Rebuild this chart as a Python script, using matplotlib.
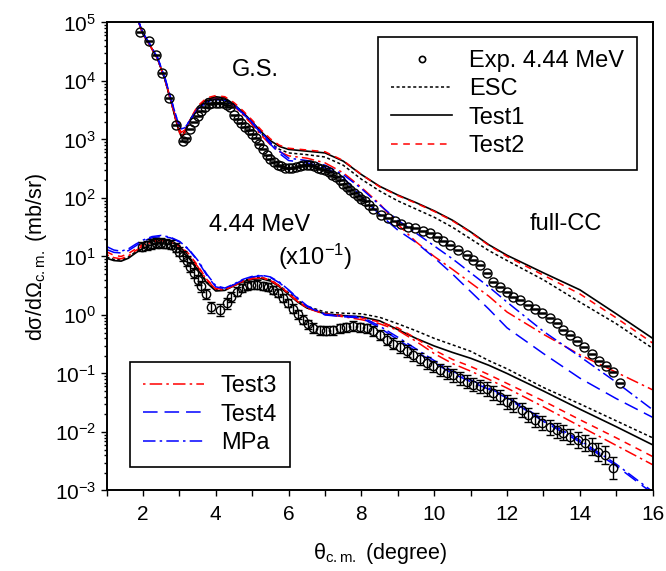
import numpy as np
import matplotlib
import matplotlib.pyplot as plt
from matplotlib.lines import Line2D

matplotlib.use('Agg')

plt.rcParams['font.family'] = ['Liberation Sans', 'DejaVu Sans']
plt.rcParams['mathtext.fontset'] = 'custom'
plt.rcParams['mathtext.rm'] = 'Liberation Sans'
plt.rcParams['mathtext.it'] = 'Liberation Sans:italic'
plt.rcParams['lines.scale_dashes'] = False

# ---- G.S. (values are log10 of dsigma/dOmega in mb/sr) ----
gs_x = [1.8, 2.0, 2.2, 2.4, 2.6, 2.8, 2.95, 3.05, 3.15, 3.3, 3.5, 3.75, 4.0, 4.25,
        4.5, 4.75, 5.0, 5.25, 5.5, 5.75, 6.0, 6.5, 7.0, 7.5, 8.0, 8.5, 9.0, 9.5,
        10.0, 10.5, 11.0, 11.5, 12.0, 13.0, 14.0, 15.0, 16.0]
gs_esc = [5.15, 4.80, 4.60, 4.38, 4.03, 3.58, 3.23, 3.07, 3.13, 3.34, 3.54, 3.67, 3.71, 3.69,
          3.58, 3.44, 3.27, 3.10, 2.94, 2.83, 2.77, 2.74, 2.70, 2.56, 2.32, 2.12, 1.95, 1.81,
          1.67, 1.50, 1.30, 1.10, 0.93, 0.60, 0.22, -0.15, -0.57]
gs_test1 = [5.15, 4.80, 4.60, 4.38, 4.03, 3.58, 3.22, 3.05, 3.12, 3.34, 3.55, 3.69, 3.73, 3.71,
            3.60, 3.46, 3.30, 3.13, 2.98, 2.88, 2.83, 2.80, 2.77, 2.63, 2.40, 2.20, 2.05, 1.92,
            1.78, 1.62, 1.42, 1.20, 1.02, 0.72, 0.43, 0.02, -0.40]
gs_test2 = [5.15, 4.80, 4.60, 4.38, 4.03, 3.58, 3.22, 3.03, 3.12, 3.35, 3.57, 3.71, 3.75, 3.73,
            3.63, 3.49, 3.33, 3.16, 3.01, 2.90, 2.85, 2.82, 2.79, 2.64, 2.40, 2.19, 2.04, 1.91,
            1.77, 1.61, 1.41, 1.19, 1.00, 0.68, 0.36, -0.05, -0.48]
gs_test3 = [5.15, 4.80, 4.60, 4.38, 4.03, 3.60, 3.26, 3.12, 3.16, 3.33, 3.52, 3.66, 3.70, 3.68,
            3.57, 3.42, 3.25, 3.07, 2.91, 2.79, 2.72, 2.68, 2.60, 2.43, 2.18, 1.90, 1.55, 1.25,
            1.00, 0.78, 0.55, 0.32, 0.05, -0.33, -0.68, -0.98, -1.28]
gs_test4 = [5.15, 4.82, 4.62, 4.40, 4.06, 3.63, 3.32, 3.19, 3.20, 3.33, 3.51, 3.64, 3.68, 3.67,
            3.58, 3.44, 3.28, 3.10, 2.92, 2.76, 2.64, 2.60, 2.52, 2.35, 2.02, 1.72, 1.45, 1.24,
            0.98, 0.70, 0.40, 0.10, -0.22, -0.66, -1.08, -1.43, -1.75]
gs_mpa = [5.15, 4.82, 4.62, 4.40, 4.06, 3.63, 3.31, 3.18, 3.20, 3.34, 3.52, 3.65, 3.69, 3.68,
          3.59, 3.45, 3.29, 3.12, 2.95, 2.80, 2.68, 2.64, 2.56, 2.40, 2.16, 1.88, 1.62, 1.40,
          1.18, 0.96, 0.72, 0.48, 0.22, -0.28, -0.71, -1.15, -1.62]

gs_exp_x = [1.93, 2.16, 2.37, 2.53, 2.72, 2.91, 3.11, 3.17, 3.30, 3.40, 3.50, 3.60, 3.70,
            3.80, 3.90, 4.00, 4.10, 4.20, 4.30, 4.40, 4.50, 4.60, 4.70, 4.80, 4.90, 5.00,
            5.10, 5.20, 5.30, 5.40, 5.50, 5.60, 5.70, 5.80, 5.90, 6.00, 6.10, 6.20, 6.30,
            6.40, 6.50, 6.60, 6.70, 6.80, 6.90, 7.00, 7.10, 7.20, 7.30, 7.40, 7.50, 7.60,
            7.70, 7.80, 7.90, 8.00, 8.10, 8.20, 8.32, 8.55, 8.74, 8.92, 9.10, 9.29, 9.47,
            9.70, 9.88, 10.07, 10.25, 10.43, 10.66, 10.89, 11.07, 11.26, 11.44, 11.62, 11.80,
            11.99, 12.17, 12.35, 12.58, 12.77, 12.95, 13.18, 13.36, 13.54, 13.73, 13.91,
            14.12, 14.32, 14.53, 14.73, 14.91, 15.10]
gs_exp_y = [4.83, 4.68, 4.44, 4.13, 3.71, 3.25, 2.98, 3.03, 3.18, 3.30, 3.40, 3.49, 3.55,
            3.60, 3.62, 3.63, 3.63, 3.62, 3.59, 3.55, 3.42, 3.35, 3.28, 3.22, 3.16, 3.10,
            3.02, 2.92, 2.83, 2.74, 2.67, 2.61, 2.57, 2.54, 2.52, 2.51, 2.52, 2.53, 2.55,
            2.56, 2.56, 2.56, 2.54, 2.52, 2.50, 2.47, 2.44, 2.40, 2.36, 2.30, 2.24, 2.19,
            2.14, 2.09, 2.04, 1.99, 1.94, 1.88, 1.81, 1.71, 1.65, 1.60, 1.56, 1.51, 1.48,
            1.44, 1.40, 1.33, 1.27, 1.20, 1.11, 1.03, 0.94, 0.85, 0.71, 0.57, 0.48,
            0.40, 0.31, 0.26, 0.17, 0.11, 0.03, -0.06, -0.14, -0.26, -0.34, -0.45,
            -0.55, -0.66, -0.79, -0.87, -0.98, -1.16]

# ---- 4.44 MeV (x10^-1), log10 values ----
ex_x = [1.0, 1.2, 1.4, 1.6, 1.8, 2.0, 2.25, 2.5, 2.75, 3.0, 3.25, 3.5, 3.75, 4.0, 4.25,
        4.5, 4.75, 5.0, 5.25, 5.5, 5.75, 6.0, 6.25, 6.5, 7.0, 7.5, 8.0, 8.5, 9.0, 9.5,
        10.0, 10.5, 11.0, 11.5, 12.0, 13.0, 14.0, 15.0, 16.0]
ex_esc = [0.99, 0.95, 0.94, 0.99, 1.08, 1.16, 1.22, 1.24, 1.22, 1.14, 1.00, 0.80, 0.57, 0.43,
          0.44, 0.52, 0.59, 0.63, 0.64, 0.60, 0.50, 0.38, 0.25, 0.15, 0.05, 0.03, 0.02, -0.04,
          -0.15, -0.27, -0.40, -0.51, -0.62, -0.78, -0.92, -1.24, -1.52, -1.81, -2.10]
ex_test1 = [0.97, 0.93, 0.92, 0.97, 1.06, 1.14, 1.20, 1.22, 1.20, 1.12, 0.98, 0.78, 0.55, 0.41,
            0.42, 0.50, 0.57, 0.61, 0.62, 0.58, 0.48, 0.35, 0.22, 0.12, 0.02, -0.01, -0.03, -0.10,
            -0.25, -0.40, -0.53, -0.64, -0.74, -0.86, -1.00, -1.30, -1.61, -1.91, -2.22]
ex_test2 = [1.08, 1.02, 1.00, 1.05, 1.13, 1.21, 1.27, 1.29, 1.27, 1.19, 1.05, 0.85, 0.61, 0.45,
            0.44, 0.51, 0.58, 0.63, 0.64, 0.60, 0.50, 0.37, 0.24, 0.13, 0.02, -0.01, -0.05, -0.12,
            -0.22, -0.40, -0.60, -0.76, -0.88, -1.02, -1.17, -1.47, -1.79, -2.10, -2.42]
ex_test3 = [1.03, 0.98, 0.96, 1.01, 1.10, 1.18, 1.25, 1.27, 1.25, 1.17, 1.03, 0.83, 0.60, 0.44,
            0.43, 0.50, 0.57, 0.62, 0.63, 0.59, 0.49, 0.36, 0.23, 0.12, 0.01, -0.03, -0.08, -0.15,
            -0.26, -0.45, -0.66, -0.83, -0.96, -1.10, -1.25, -1.57, -1.90, -2.23, -2.56]
ex_test4 = [1.12, 1.07, 1.06, 1.10, 1.18, 1.26, 1.32, 1.34, 1.32, 1.25, 1.12, 0.93, 0.68, 0.48,
            0.45, 0.52, 0.60, 0.65, 0.67, 0.64, 0.55, 0.42, 0.28, 0.15, 0.00, -0.03, -0.05, -0.22,
            -0.42, -0.62, -0.82, -1.00, -1.14, -1.27, -1.42, -1.82, -2.17, -2.58, -3.05]
ex_mpa = [1.17, 1.11, 1.09, 1.13, 1.21, 1.28, 1.34, 1.36, 1.33, 1.26, 1.13, 0.94, 0.70, 0.50,
          0.46, 0.53, 0.61, 0.66, 0.68, 0.65, 0.56, 0.43, 0.29, 0.16, 0.01, -0.02, -0.03, -0.19,
          -0.38, -0.58, -0.78, -0.96, -1.11, -1.25, -1.40, -1.79, -2.14, -2.55, -3.02]

ex_exp_x = [1.96, 2.10, 2.23, 2.37, 2.50, 2.64, 2.77, 2.90, 3.00, 3.10, 3.20, 3.30, 3.40,
            3.50, 3.60, 3.72, 3.88, 4.11, 4.30, 4.43, 4.57, 4.71, 4.85, 4.98, 5.12, 5.30,
            5.44, 5.58, 5.71, 5.85, 5.99, 6.13, 6.26, 6.40, 6.54, 6.68, 6.86, 7.04, 7.23,
            7.41, 7.59, 7.78, 7.96, 8.14, 8.33, 8.51, 8.69, 8.87, 9.05, 9.24, 9.42, 9.61,
            9.79, 9.97, 10.15, 10.34, 10.52, 10.70, 10.89, 11.07, 11.26, 11.44, 11.62, 11.81,
            11.99, 12.17, 12.40, 12.58, 12.77, 12.95, 13.18, 13.36, 13.55, 13.73, 13.96,
            14.14, 14.32, 14.51, 14.69, 14.92]
ex_exp_y = [1.17, 1.19, 1.21, 1.23, 1.23, 1.22, 1.20, 1.15, 1.08, 1.01, 0.92, 0.82, 0.72,
            0.60, 0.49, 0.36, 0.13, 0.09, 0.20, 0.31, 0.40, 0.46, 0.49, 0.51, 0.52, 0.50,
            0.48, 0.43, 0.37, 0.29, 0.20, 0.11, 0.01, -0.08, -0.16, -0.22, -0.26, -0.27, -0.26,
            -0.23, -0.21, -0.19, -0.21, -0.23, -0.27, -0.34, -0.42, -0.49, -0.55, -0.61, -0.68, -0.75,
            -0.82, -0.88, -0.94, -0.99, -1.03, -1.08, -1.14, -1.19, -1.22, -1.26, -1.33, -1.40,
            -1.48, -1.54, -1.62, -1.71, -1.80, -1.85, -1.92, -1.97, -2.01, -2.08, -2.14,
            -2.19, -2.25, -2.34, -2.39, -2.62]
ex_exp_err = [0.08, 0.08, 0.08, 0.08, 0.08, 0.08, 0.08, 0.08, 0.08, 0.08, 0.08, 0.08, 0.08,
              0.08, 0.09, 0.09, 0.10, 0.10, 0.09, 0.08, 0.08, 0.07, 0.07, 0.07, 0.07, 0.07,
              0.07, 0.07, 0.07, 0.07, 0.07, 0.08, 0.08, 0.08, 0.08, 0.08, 0.08, 0.08, 0.08,
              0.08, 0.08, 0.08, 0.08, 0.08, 0.09, 0.09, 0.09, 0.10, 0.10, 0.10, 0.10, 0.10,
              0.10, 0.10, 0.10, 0.11, 0.11, 0.11, 0.11, 0.11, 0.11, 0.12, 0.12, 0.12,
              0.12, 0.12, 0.12, 0.12, 0.12, 0.12, 0.13, 0.13, 0.13, 0.13, 0.14,
              0.14, 0.14, 0.15, 0.15, 0.19]

labels = ['ESC', 'Test1', 'Test2', 'Test3', 'Test4', 'MPa']
styles = {
    'ESC': dict(color='black', ls=(0, (2.2, 1.8)), lw=1.1),
    'Test1': dict(color='black', ls='-', lw=1.2),
    'Test2': dict(color='red', ls=(0, (4.8, 4.0)), lw=1.1),
    'Test3': dict(color='red', ls=(0, (1.8, 3.0, 9.0, 3.0)), lw=1.1),
    'Test4': dict(color='blue', ls=(0, (10.5, 5.0)), lw=1.1),
    'MPa': dict(color='blue', ls=(0, (9.0, 3.0, 1.8, 3.0)), lw=1.1),
}
gs_curves = dict(zip(labels, [gs_esc, gs_test1, gs_test2, gs_test3, gs_test4, gs_mpa]))
ex_curves = dict(zip(labels, [ex_esc, ex_test1, ex_test2, ex_test3, ex_test4, ex_mpa]))

fig = plt.figure(figsize=(6.66, 5.71), dpi=100)
ax = fig.add_axes([0.160, 0.141, 0.820, 0.8197])

handles = {}
for name in labels:
    ax.plot(ex_x, 10.0 ** np.array(ex_curves[name]), **styles[name])
    handles[name], = ax.plot(gs_x, 10.0 ** np.array(gs_curves[name]), **styles[name])

# 4.44 MeV data with error bars
ey = np.array(ex_exp_y)
ee = np.array(ex_exp_err)
yv = 10.0 ** ey
yerr = [yv - 10.0 ** (ey - ee), 10.0 ** (ey + ee) - yv]
ax.errorbar(ex_exp_x, yv, yerr=yerr, fmt='o', ms=6, mfc='none', mec='black', mew=1.0,
            ecolor='black', elinewidth=1.0, capsize=3, capthick=1.0, zorder=5)

# G.S. data
gy = 10.0 ** np.array(gs_exp_y)
ax.plot(gs_exp_x, gy, ls='none', marker='o', ms=6.5, mfc='none', mec='black', mew=1.0, zorder=6)
ax.plot(gs_exp_x, gy, ls='none', marker='_', ms=6, mew=1.8, color='black', zorder=6)

ax.set_yscale('log')
ax.set_xlim(1, 16)
ax.set_ylim(1e-3, 1e5)
ax.set_xticks(np.arange(2, 17, 2))
ax.set_xticks(np.arange(1, 17, 1), minor=True)
ax.tick_params(axis='both', which='both', direction='out', top=False, right=False,
               labelsize=15, width=1.0)
ax.tick_params(axis='x', which='both', length=4.5, pad=6)
ax.tick_params(axis='y', which='major', length=4.5, pad=3)
ax.tick_params(axis='y', which='minor', length=2.5)
for s in ax.spines.values():
    s.set_linewidth(1.4)

ax.set_xlabel(r'θ$_{\mathrm{c.m.}}$ (degree)', fontsize=15.5, labelpad=12)
ax.set_ylabel(r'dσ/dΩ$_{\mathrm{c.m.}}$ (mb/sr)', fontsize=15.5, labelpad=4)

ax.text(5.1, 10 ** 4.19, 'G.S.', fontsize=17, ha='center', va='center')
ax.text(5.21, 10 ** 1.54, '4.44 MeV', fontsize=17, ha='center', va='center')
ax.text(6.72, 10 ** 0.99, r'(x10$^{-1}$)', fontsize=17, ha='center', va='center')
ax.text(13.62, 10 ** 1.56, 'full-CC', fontsize=17, ha='center', va='center')

h_exp = Line2D([], [], ls='none', marker='o', ms=4.5, mfc='none', mec='black', mew=1.2)
leg_kw = dict(fontsize=17, frameon=True, fancybox=False, edgecolor='black',
              handlelength=2.6, handletextpad=0.7, labelspacing=0.27, borderpad=0.55,
              borderaxespad=0, framealpha=1)
leg1 = ax.legend([h_exp, handles['ESC'], handles['Test1'], handles['Test2']],
                 ['Exp. 4.44 MeV', 'ESC', 'Test1', 'Test2'],
                 loc='upper right', bbox_to_anchor=(0.971, 0.969), **leg_kw)
leg1.get_frame().set_linewidth(1.2)
ax.add_artist(leg1)
leg2 = ax.legend([handles['Test3'], handles['Test4'], handles['MPa']],
                 ['Test3', 'Test4', 'MPa'],
                 loc='lower left', bbox_to_anchor=(0.0427, 0.050), **leg_kw)
leg2.get_frame().set_linewidth(1.2)

fig.savefig('out.png', dpi=100)
